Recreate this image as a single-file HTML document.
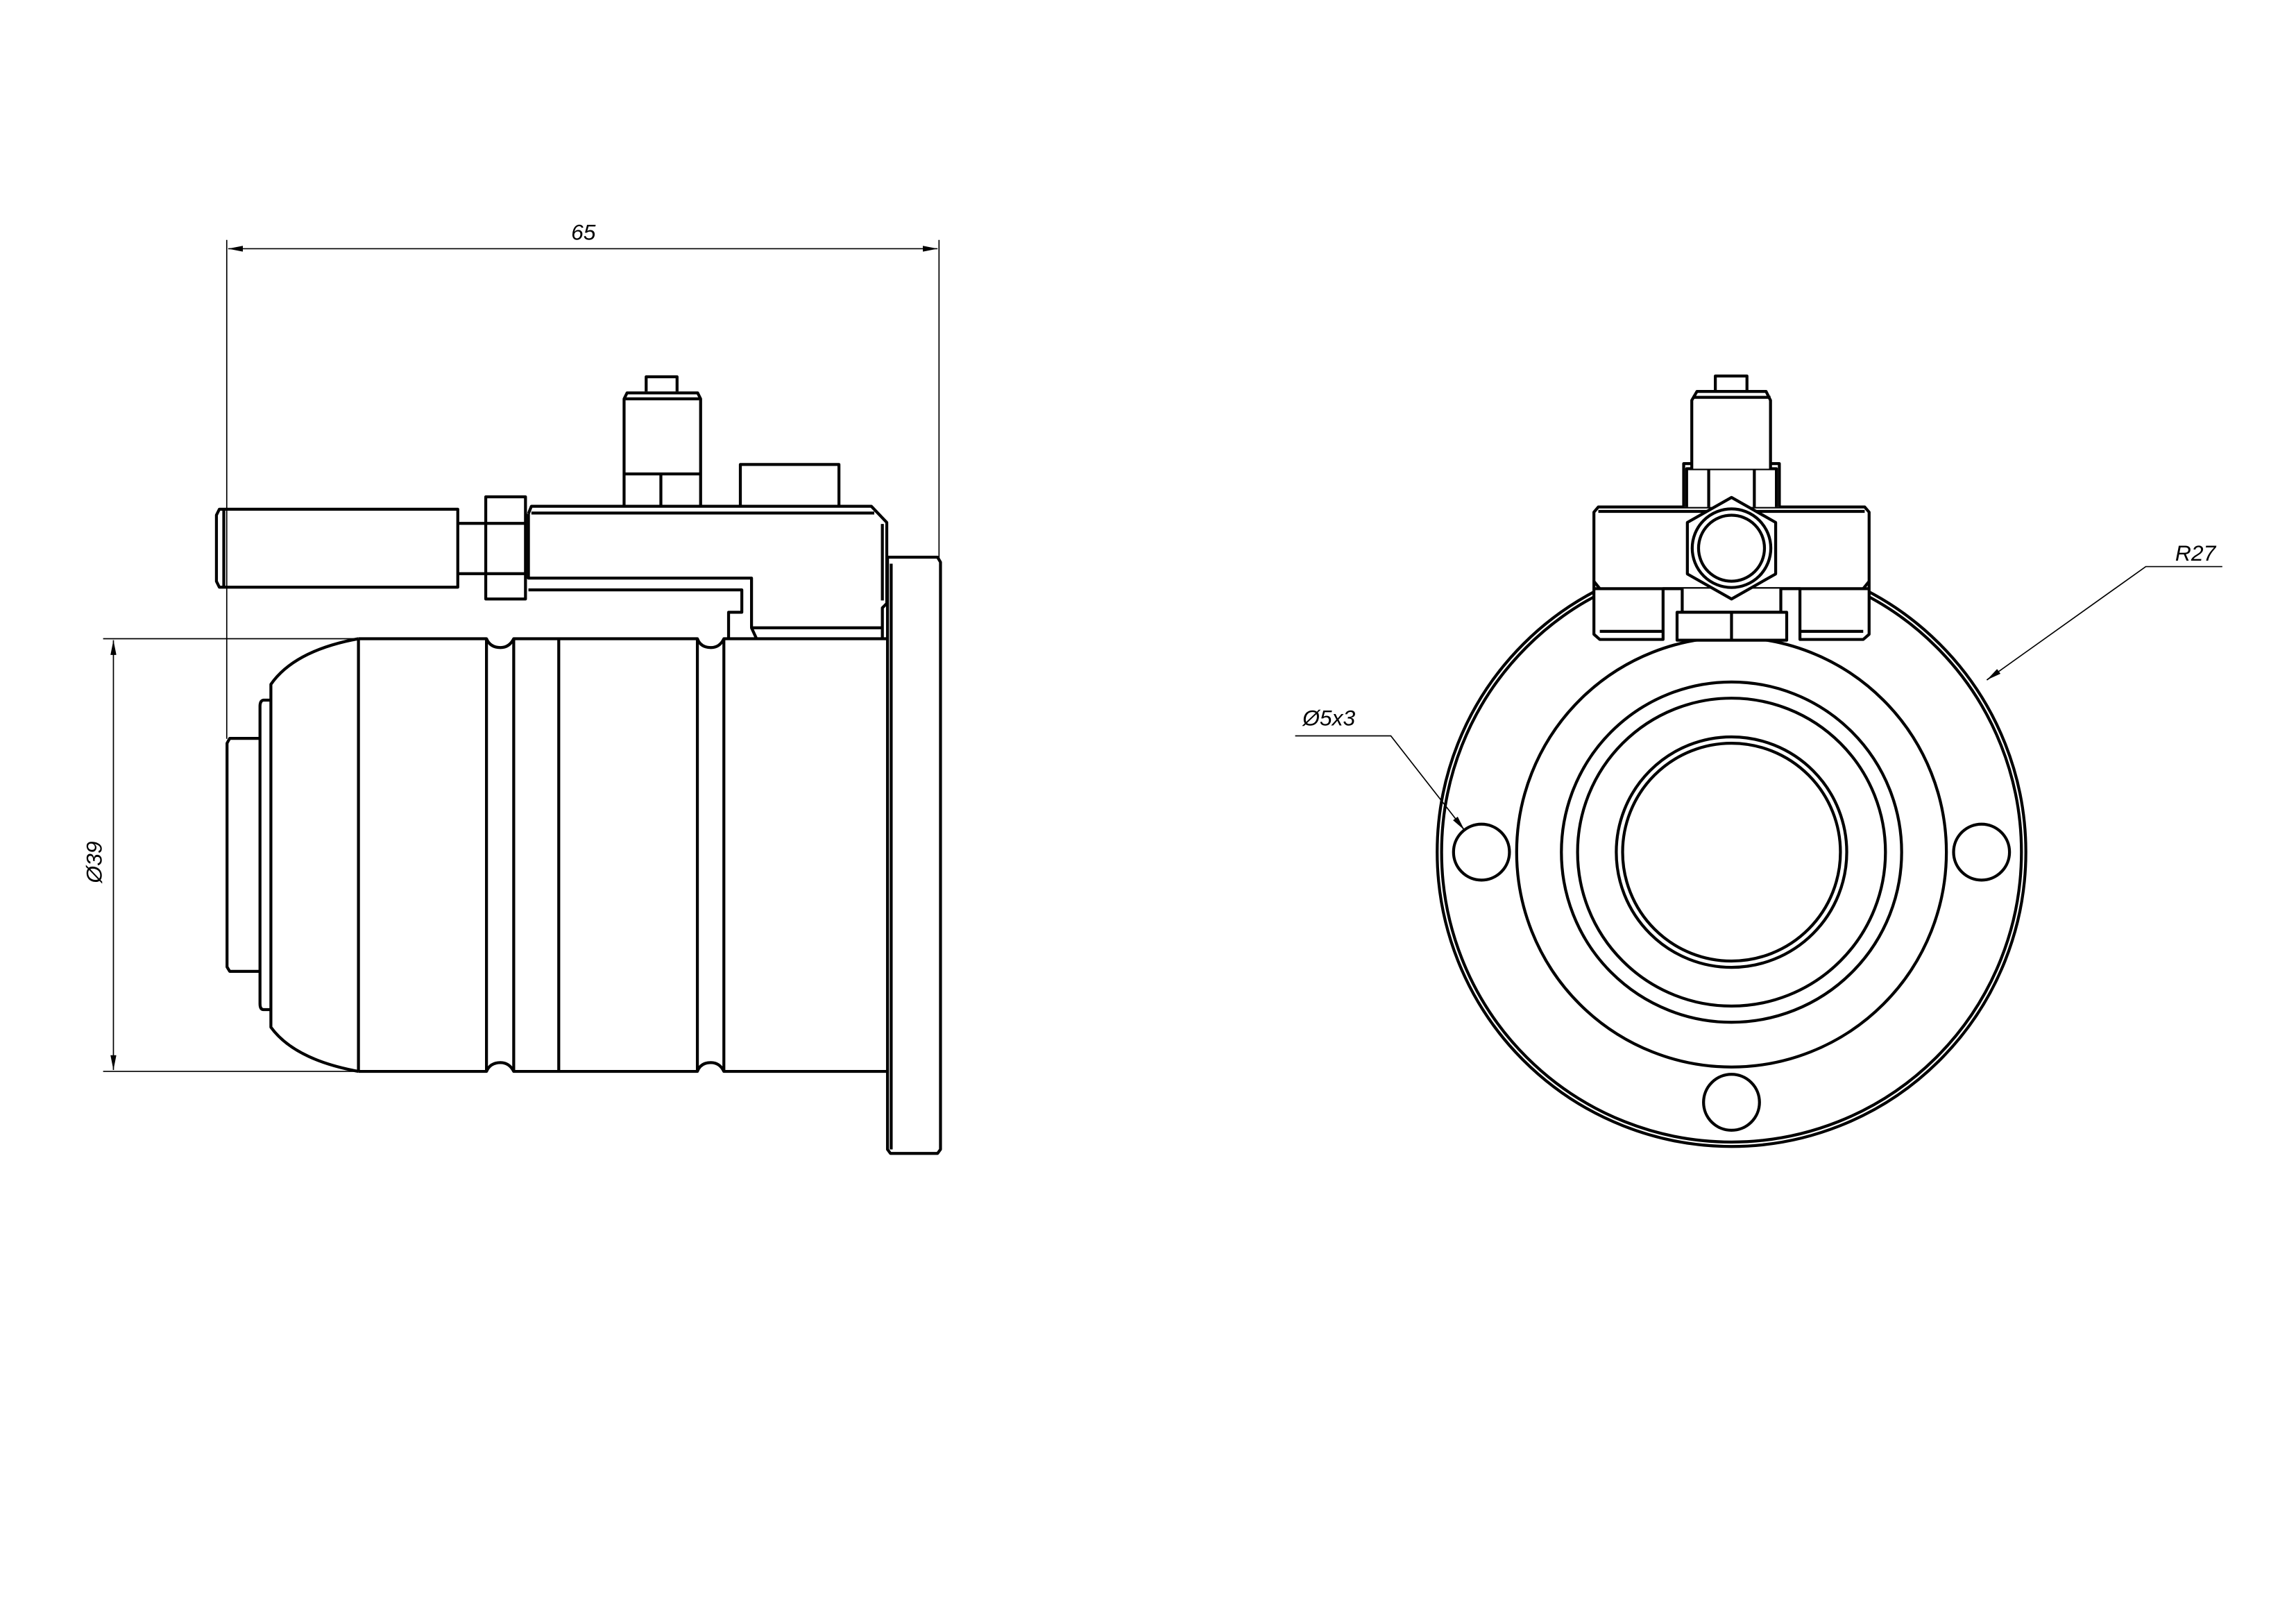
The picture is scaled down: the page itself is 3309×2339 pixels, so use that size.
<!DOCTYPE html>
<html><head><meta charset="utf-8"><style>html,body{margin:0;padding:0;background:#fff}svg{display:block}</style></head><body>
<svg width="3309" height="2339" viewBox="0 0 1560 1102.8" xmlns="http://www.w3.org/2000/svg">
<defs>
<marker id="ar" viewBox="0 0 10 4" refX="10" refY="2" markerWidth="10" markerHeight="4" orient="auto-start-reverse" markerUnits="userSpaceOnUse"><path d="M0,0L10,2L0,4z" fill="#000"/></marker>
</defs>
<rect width="1560" height="1103" fill="#fff"/>
<g fill="none" stroke="#000" stroke-width="0.8">
<line x1="154" y1="163" x2="154" y2="502"/>
<line x1="638" y1="163" x2="638" y2="379"/>
<line x1="155" y1="169" x2="637" y2="169" marker-start="url(#ar)" marker-end="url(#ar)"/>
<line x1="70" y1="434" x2="243" y2="434"/>
<line x1="70" y1="728" x2="243" y2="728"/>
<line x1="77" y1="435" x2="77" y2="727" marker-start="url(#ar)" marker-end="url(#ar)"/>
<polyline points="880,500 945,500 995,564" />
<line x1="990" y1="557.6" x2="995" y2="564" marker-end="url(#ar)"/>
<polyline points="1510,385 1458,385 1350,462"/>
<line x1="1356" y1="457.7" x2="1350" y2="462" marker-end="url(#ar)"/>
</g>
<g font-family="Liberation Sans, sans-serif" font-style="italic" font-size="15" fill="#000">
<text x="388" y="163">65</text>
<text x="0" y="0" transform="translate(69,600) rotate(-90)">Ø39</text>
<text x="885" y="493">Ø5x3</text>
<text x="1478" y="381">R27</text>
</g>
<g fill="none" stroke="#000" stroke-width="2" stroke-linejoin="round">
<path d="M243.5,434 H330.5 Q333,440 340,440 Q346,440 349,434 H473.8 Q476,440 483,440 Q489,440 491.8,434 H603"/>
<path d="M243.5,728 H330.5 Q333,722 340,722 Q346,722 349,728 H473.8 Q476,722 483,722 Q489,722 491.8,728 H603"/>
<line x1="243.5" y1="434" x2="243.5" y2="728"/>
<line x1="330.5" y1="434" x2="330.5" y2="728"/>
<line x1="349" y1="434" x2="349" y2="728"/>
<line x1="379.6" y1="434" x2="379.6" y2="728"/>
<line x1="473.8" y1="434" x2="473.8" y2="728"/>
<line x1="491.8" y1="434" x2="491.8" y2="728"/>
<path d="M243.5,434 Q200,442 184,465 V698 Q200,720 243.5,728"/>
<path d="M184,475.7 H179 Q176.6,476 176.6,480 V682 Q176.6,686 179,686 H184"/>
<path d="M176.6,501.7 H156 L154.2,505 V657 L156,660 H176.6"/>
<path d="M603,378.6 H637 L639,382 V781 L637,783.7 H605 L603,781 Z"/>
<line x1="605.5" y1="383" x2="605.5" y2="781"/>
<path d="M359,349 L361,344 H592 L602.5,355 V410 L599.5,413 V434"/>
<line x1="361" y1="348.6" x2="594" y2="348.6"/>
<line x1="599.5" y1="356" x2="599.5" y2="408"/>
<path d="M359,349 V392.8 H510.6 V426.6 L514,434"/>
<path d="M359,400.8 H504 V416 H495 V434"/>
<line x1="510.6" y1="426.6" x2="600" y2="426.6"/>
<path d="M149,346 H311 V399 H149 L147,395 V350 Z"/>
<line x1="152" y1="346" x2="152" y2="399"/>
<path d="M311,355.6 H330 M311,389.8 H330"/>
<path d="M330,337.6 H357 V407 H330 Z"/>
<line x1="330" y1="355.6" x2="357" y2="355.6"/>
<line x1="330" y1="389.8" x2="357" y2="389.8"/>
<path d="M424,344 V271 L426,267 H474 L476,271 V344"/>
<line x1="425" y1="271" x2="475" y2="271"/>
<path d="M439,266 V256 H460 V266"/>
<line x1="424" y1="322" x2="476" y2="322"/>
<line x1="449" y1="322" x2="449" y2="344"/>
<path d="M503,344 V315.6 H570 V344"/>

<circle cx="1176.5" cy="579" r="200"/>
<circle cx="1176.5" cy="579" r="197"/>
<circle cx="1176.5" cy="579" r="146"/>
<circle cx="1176.5" cy="579" r="115.6"/>
<circle cx="1176.5" cy="579" r="104.6"/>
<circle cx="1176.5" cy="579" r="78.3"/>
<circle cx="1176.5" cy="579" r="74"/>
<circle cx="1006.6" cy="579" r="19"/>
<circle cx="1346.4" cy="579" r="19"/>
<circle cx="1176.5" cy="749" r="19"/>
<path d="M1083,348 L1086,344.5 H1267 L1270,348 V431 L1266,434.5 H1223 V400 H1130 V434.5 H1087 L1083,431 Z" fill="#fff"/>
<line x1="1086" y1="347.5" x2="1267" y2="347.5"/>
<path d="M1083,395 L1087,400 M1270,395 L1266,400"/>
<line x1="1083" y1="400" x2="1270" y2="400"/>
<line x1="1087" y1="429" x2="1130" y2="429"/>
<line x1="1223" y1="429" x2="1266" y2="429"/>
<path d="M1143,400 V416 H1210 V400" fill="#fff"/>
<rect x="1139.5" y="416" width="74.5" height="19" fill="#fff"/>
<line x1="1176.5" y1="416" x2="1176.5" y2="435"/>
<path d="M1144,344.5 V315 H1209 V344.5" fill="#fff"/>
<path d="M1146,344.5 V318.5 H1207 V344.5"/>
<line x1="1161" y1="318.5" x2="1161" y2="344.5"/>
<line x1="1192" y1="318.5" x2="1192" y2="344.5"/>
<path d="M1149.5,318.5 V272 L1153,266 H1200 L1203,272 V318.5" fill="#fff"/>
<line x1="1150" y1="270" x2="1203" y2="270"/>
<path d="M1165.5,266 V255.5 H1187 V266"/>
<polygon points="1176.5,338 1206.5,355 1206.5,390 1176.5,407 1146.5,390 1146.5,355" fill="#fff"/>
<circle cx="1176.5" cy="372.5" r="26.7"/>
<circle cx="1176.5" cy="372.5" r="22.4"/>
</g>
</svg>
</body></html>
